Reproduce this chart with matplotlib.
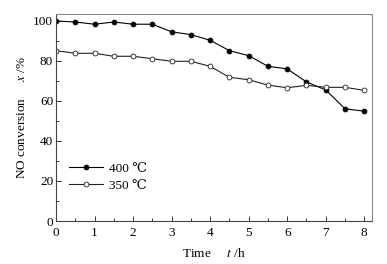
import matplotlib
matplotlib.use("Agg")
import matplotlib.pyplot as plt
from matplotlib.ticker import MultipleLocator

time_h = [0, 0.5, 1, 1.5, 2, 2.5, 3, 3.5, 4, 4.5, 5, 5.5, 6, 6.5, 7, 7.5, 8]
conv_400 = [99.8, 99.3, 98.2, 99.3, 98.2, 98.2, 94.4, 93.0, 90.2, 85.0, 82.5, 77.2, 75.9, 69.4, 65.4, 56.0, 54.8]
conv_350 = [85.0, 83.7, 83.7, 82.2, 82.2, 81.0, 79.7, 79.7, 77.2, 71.7, 70.5, 67.8, 66.5, 67.7, 66.7, 66.7, 65.2]
labels = ["400 ℃", "350 ℃"]

plt.rcParams['font.family'] = ['Liberation Serif', 'DejaVu Serif']
plt.rcParams['mathtext.fontset'] = 'stix'

fs = 9.5
fig = plt.figure(figsize=(3.87, 2.64), dpi=100)
ax = fig.add_axes([56/387, 1-221/264, (372-56)/387, (221-14)/264])

ax.plot(time_h, conv_400, '-o', color='black', lw=0.8, ms=3.5, mfc='black', mec='black', mew=0.6, label=labels[0])
ax.plot(time_h, conv_350, '-o', color='#222222', lw=0.8, ms=3.5, mfc='white', mec='#222222', mew=0.6, label=labels[1])

ax.set_xlim(0, 8.2)
ax.set_ylim(0, 103.3)
ax.xaxis.set_major_locator(MultipleLocator(1))
ax.xaxis.set_minor_locator(MultipleLocator(0.5))
ax.yaxis.set_major_locator(MultipleLocator(20))
ax.yaxis.set_minor_locator(MultipleLocator(10))
ax.tick_params(which='both', direction='in', color='#333333', width=0.7, labelsize=fs)
ax.tick_params(axis='x', pad=4)
ax.tick_params(axis='y', pad=2)
ax.tick_params(which='major', length=3.5)
ax.tick_params(which='minor', length=2)
ax.tick_params(axis='x', which='both', top=False)
ax.tick_params(axis='y', which='both', right=False)
for s in ax.spines.values():
    s.set_color('#888888')
    s.set_linewidth(0.8)
ax.spines['left'].set_color('#444444')
ax.spines['bottom'].set_color('#444444')

ax.set_xlabel(r'Time     $\mathit{t}$ /h', fontsize=fs, labelpad=6)
ax.set_ylabel(r'NO conversion     $\mathit{x}$ /%', fontsize=fs, labelpad=4)

ax.legend(loc='lower left', bbox_to_anchor=(0.025, 0.115), frameon=False, fontsize=fs,
          handlelength=2.6, handletextpad=0.4, labelspacing=0.35, borderaxespad=0)

fig.savefig('out.png', dpi=100)
